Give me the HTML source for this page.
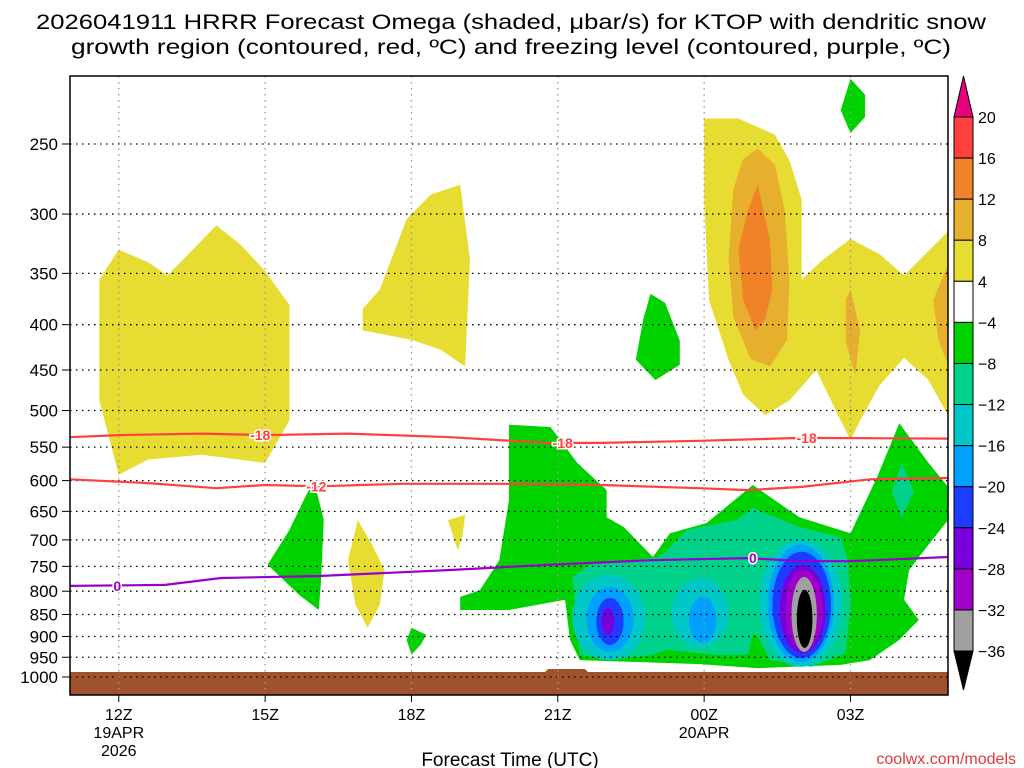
<!DOCTYPE html>
<html><head><meta charset="utf-8"><style>
html,body{margin:0;padding:0;background:#fff}
svg{display:block;font-family:"Liberation Sans",sans-serif}
</style></head><body>
<svg id="chart" width="1024" height="768" viewBox="0 0 1024 768">
<g>
<text x="511" y="29" font-size="21" text-anchor="middle" textLength="950" lengthAdjust="spacingAndGlyphs">2026041911 HRRR Forecast Omega (shaded, μbar/s) for KTOP with dendritic snow</text>
<text x="511" y="54" font-size="21" text-anchor="middle" textLength="880" lengthAdjust="spacingAndGlyphs">growth region (contoured, red, ºC) and freezing level (contoured, purple, ºC)</text>
</g>
<g id="fills"></g>
<g id="grid"></g>
<g id="lines"></g>
<rect x="70" y="76" width="878" height="619" fill="none" stroke="#000" stroke-width="1.5"/>
<g id="axes"></g>
<g id="cbar"></g>
<text x="510" y="766" font-size="19" text-anchor="middle">Forecast Time (UTC)</text>
<text x="1016" y="764" font-size="16" text-anchor="end" fill="#e03a3a">coolwx.com/models</text>
</svg>
<script>
const pLevels=[250,300,350,400,450,500,550,600,650,700,750,800,850,900,950,1000];
const xTicksH=[12,15,18,21,24,27];
const xTickLabels=["12Z","15Z","18Z","21Z","00Z","03Z"];
const xSubLabels=[["19APR","2026"],[],[],[],["20APR"],[]];
const cbLevels=["20","16","12","8","4","−4","−8","−12","−16","−20","−24","−28","−32","−36"];
const cbColors=["#ff4040","#f08228","#e6af2d","#e6dc32","#ffffff","#00d200","#00d28c","#00c8c8","#00a0ff","#1e3cff","#7800dc","#a000c8","#a0a0a0"];
// polygons [hour, hPa]
const yellowLeft=[[11.6,356],[12.0,329],[12.6,340],[13.0,352],[14.0,309],[14.5,325],[15.0,348],[15.5,380],[15.5,513],[15.0,573],[13.7,561],[12.6,568],[12.0,591],[11.6,487]];
const yellowMid=[[17.0,384],[17.35,365],[17.9,304],[18.4,285],[19.0,278],[19.2,338],[19.1,446],[18.6,427],[18.0,416],[17.0,406]];
const yellowSmall1=[[18.75,665],[19.1,656],[19.05,691],[18.95,719]];
const yellowSmall2=[[16.9,665],[17.2,710],[17.45,757],[17.35,829],[17.1,880],[16.85,829],[16.7,738]];
const yellowRight=[[24.0,234],[24.7,234],[25.45,244],[25.75,261],[26.0,289],[26.0,356],[26.4,339],[27.0,320],[27.6,333],[28.1,352],[29.0,314],[29.0,506],[28.6,462],[28.1,436],[27.6,468],[27.2,513],[27.0,540],[26.7,500],[26.3,450],[25.75,487],[25.25,506],[24.8,480],[24.5,438],[24.1,375],[24.0,289]];
const ochre1=[[25.1,253],[25.45,264],[25.65,297],[25.75,356],[25.7,416],[25.35,446],[24.95,437],[24.6,392],[24.5,337],[24.6,281],[24.8,260]];
const ochre2=[[27.0,365],[27.2,406],[27.1,456],[26.9,418],[26.9,375]];
const ochre3=[[29.0,342],[28.7,375],[28.8,416],[29.0,444]];
const orange1=[[25.1,278],[25.35,321],[25.4,365],[25.25,395],[25.05,406],[24.8,375],[24.7,329],[24.9,297]];
const green1=[[16.0,600],[16.2,664],[16.15,774],[16.1,840],[15.7,808],[15.05,747],[15.5,682],[15.8,630]];
const green2=[[18.0,880],[18.3,896],[18.2,918],[18.0,944],[17.9,908]];
const green3=[[22.9,369],[23.2,378],[23.5,417],[23.5,444],[23.0,462],[22.6,438],[22.75,395]];
const green4=[[27.0,211],[27.3,220],[27.3,233],[27.0,243],[26.8,229]];
const greenBig=[[20.0,519],[20.85,522],[21.4,573],[22.0,615],[22.0,660],[22.35,677],[22.95,732],[23.3,688],[24.05,670],[25.0,607],[25.95,660],[27.0,688],[27.55,594],[28.0,517],[28.6,573],[29.0,610],[29.0,665],[28.6,709],[28.2,757],[28.1,818],[28.4,862],[28.0,908],[27.4,957],[26.8,969],[25.1,977],[23.9,967],[22.7,962],[21.45,957],[21.25,908],[21.15,818],[20.0,840],[19.0,840],[19.0,812],[19.4,798],[19.8,738],[20.0,631]];
const tealBig=[[21.3,771],[21.65,747],[23.1,732],[23.65,682],[24.65,665],[25.0,644],[25.95,677],[26.8,695],[26.95,738],[27.0,834],[26.9,940],[26.2,974],[25.35,957],[25.1,901],[25.0,892],[24.9,944],[24.2,944],[23.25,932],[22.95,944],[22.1,957],[21.45,944]];
const tealSmall=[[28.05,573],[28.3,618],[28.05,660],[27.85,618]];
// core ellipses: [centerHour, halfWidthHours, topHPa, bottomHPa, colorIndex]
const cores=[
 [22.05,0.75,767,957,7],[22.07,0.48,791,937,8],[22.07,0.28,814,920,9],[22.03,0.13,836,896,10],
 [23.92,0.58,773,927,7],[23.97,0.28,812,915,8],
 [25.98,0.85,700,974,7],[25.98,0.68,709,962,8],[26.0,0.6,722,952,9],[26.02,0.47,747,940,10],[26.05,0.38,757,932,11],[26.05,0.26,771,937,12],[26.06,0.16,797,927,-1]
];
const iso18=[[11,536],[12,533],[13.7,531],[15.0,533],[16.7,531],[18.8,536],[19.8,540],[20.8,544],[21.9,544],[23.9,541],[26.0,537],[29,538]];
const iso12=[[11,598],[12.6,604],[14.0,612],[15.0,607],[16.1,609],[17.8,605],[19.8,605],[21.9,607],[23.9,612],[24.9,615],[26.0,610],[27.4,598],[29,596]];
const frz0=[[11,789],[12.95,787],[14.1,773],[16.1,769],[18.8,757],[20.8,747],[22.9,738],[24.9,734],[26.0,740],[27.0,740],[29,732]];

const NS="http://www.w3.org/2000/svg";
const X=h=>70+(h-11)*48.78;
const Y=p=>677+384.5*Math.log(p/1000);
function mk(tag,parent,attrs){const e=document.createElementNS(NS,tag);for(const k in attrs)e.setAttribute(k,attrs[k]);parent.appendChild(e);return e;}
const fills=document.getElementById('fills');
function poly(pts,color,name){
  const el=mk('polygon',fills,{points:pts.map(q=>X(q[0]).toFixed(1)+','+Y(q[1]).toFixed(1)).join(' '),fill:color});
  
  
}
poly(yellowLeft,'#e6dc32','omega-4-8-left');
poly(yellowMid,'#e6dc32','omega-4-8-mid');
poly(yellowSmall1,'#e6dc32','omega-4-8-small');
poly(yellowSmall2,'#e6dc32','omega-4-8-small2');
poly(yellowRight,'#e6dc32','omega-4-8-right');
poly(ochre1,'#e6af2d','omega-8-12');
poly(ochre2,'#e6af2d','omega-8-12-b');
poly(ochre3,'#e6af2d','omega-8-12-c');
poly(orange1,'#f08228','omega-12-16');
poly(green1,'#00d200','omega-neg4-a');
poly(green2,'#00d200','omega-neg4-b');
poly(green3,'#00d200','omega-neg4-c');
poly(green4,'#00d200','omega-neg4-d');
poly(greenBig,'#00d200','omega-neg4-main');
poly(tealBig,'#00d28c','omega-neg8-main');
poly(tealSmall,'#00d28c','omega-neg8-small');
cores.forEach(c=>{
  const cx=X(c[0]),rx=c[1]*48.78,y1=Y(c[2]),y2=Y(c[3]);
  const el=mk('ellipse',fills,{cx:cx,cy:(y1+y2)/2,rx:rx,ry:(y2-y1)/2,fill:c[4]<0?'#000':cbColors[c[4]]});
  
  
});
const ground=mk('path',fills,{d:'M70,672 L948,672 L948,695 L70,695 Z M545,672 L548,669 L585,669 L588,672 Z',fill:'#a0522d'});



const grid=document.getElementById('grid');
pLevels.forEach(p=>{
  const el=mk('line',grid,{x1:70,x2:948,y1:Y(p),y2:Y(p),stroke:'#000','stroke-width':1.3,'stroke-dasharray':'1.5 4.5'});
  
  
});
xTicksH.forEach(h=>{
  const el=mk('line',grid,{x1:X(h),x2:X(h),y1:76,y2:695,stroke:'#999','stroke-width':1.3,'stroke-dasharray':'1.5 4.5'});
  
  
});

const lines=document.getElementById('lines');
function cline(pts,color,name,labels){
  const el=mk('polyline',lines,{points:pts.map(q=>X(q[0]).toFixed(1)+','+Y(q[1]).toFixed(1)).join(' '),fill:'none',stroke:color,'stroke-width':2.2});
  
  
  labels.forEach(l=>{
    const w=l[2].length*9+4;
    const r=mk('rect',lines,{x:X(l[0])-w/2,y:Y(l[1])-8,width:w,height:15,fill:'#fff',opacity:0});
    const t=mk('text',lines,{x:X(l[0]),y:Y(l[1])+5,'font-size':14,'font-weight':'bold','text-anchor':'middle',fill:color,stroke:'#fff','stroke-width':3,'paint-order':'stroke'});
    t.textContent=l[2];
    
    
  });
}
cline(iso18,'#ff4040','isotherm-minus18',[[14.9,533,'-18'],[21.1,544,'-18'],[26.1,537,'-18']]);
cline(iso12,'#ff4040','isotherm-minus12',[[16.05,609,'-12']]);
cline(frz0,'#9900cc','freezing-level',[[11.97,789,'0'],[25.0,734,'0']]);

const axes=document.getElementById('axes');
pLevels.forEach(p=>{
  const t=mk('text',axes,{x:58,y:Y(p)+6,'font-size':17,'text-anchor':'end'});
  t.textContent=p;
  
  
  mk('line',axes,{x1:62,x2:70,y1:Y(p),y2:Y(p),stroke:'#000','stroke-width':1});
});
xTicksH.forEach((h,i)=>{
  mk('line',axes,{x1:X(h),x2:X(h),y1:695,y2:702,stroke:'#000','stroke-width':1});
  const t=mk('text',axes,{x:X(h),y:720,'font-size':16,'text-anchor':'middle'});
  t.textContent=xTickLabels[i];
  
  
  xSubLabels[i].forEach((s,j)=>{
    const u=mk('text',axes,{x:X(h),y:738+j*18,'font-size':16,'text-anchor':'middle'});
    u.textContent=s;
    
    
  });
});

const cb=document.getElementById('cbar');
const cbTop=117,cbStep=41.08,cx0=954,cx1=973;
const tri1=mk('polygon',cb,{points:`${cx0},${cbTop} ${cx1},${cbTop} ${(cx0+cx1)/2},76`,fill:'#e8007c',stroke:'#000','stroke-width':1});


cbColors.forEach((c,i)=>{
  const r=mk('rect',cb,{x:cx0,y:cbTop+i*cbStep,width:cx1-cx0,height:cbStep,fill:c,stroke:'#000','stroke-width':1});
  
  
});
const bot=cbTop+cbColors.length*cbStep;
const tri2=mk('polygon',cb,{points:`${cx0},${bot} ${cx1},${bot} ${(cx0+cx1)/2},690`,fill:'#000',stroke:'#000','stroke-width':1});


cbLevels.forEach((s,i)=>{
  const t=mk('text',cb,{x:978,y:cbTop+i*cbStep+6,'font-size':16});
  t.textContent=s;
  
  
});
</script>
</body></html>
